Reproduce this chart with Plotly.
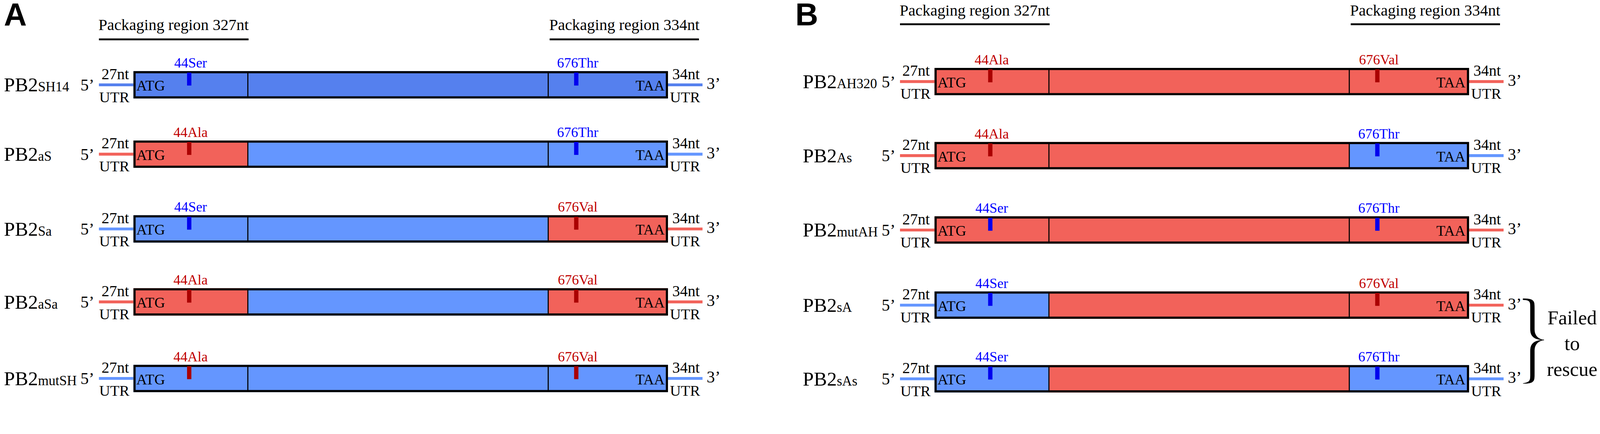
import plotly.graph_objects as go

# constructs in each panel, top to bottom (PB2 + subscript)
panel_a_names = ["SH14", "aS", "Sa", "aSa", "mutSH"]
panel_b_names = ["AH320", "As", "mutAH", "sA", "sAs"]

# origin of 5' packaging part, middle part, 3' packaging part (S = SH14, A = AH320)
panel_a_origin = [["S", "S", "S"], ["A", "S", "S"], ["S", "S", "A"], ["A", "S", "A"], ["S", "S", "S"]]
panel_b_origin = [["A", "A", "A"], ["A", "A", "S"], ["A", "A", "A"], ["S", "A", "A"], ["S", "A", "S"]]

# amino acid at residues 44 and 676
panel_a_res44 = ["Ser", "Ala", "Ser", "Ala", "Ala"]
panel_a_res676 = ["Thr", "Thr", "Val", "Val", "Val"]
panel_b_res44 = ["Ala", "Ala", "Ser", "Ser", "Ser"]
panel_b_res676 = ["Val", "Thr", "Thr", "Val", "Thr"]

residue_numbers = [44, 676]
packaging_labels = ["Packaging region 327nt", "Packaging region 334nt"]
utr_lengths = ["27nt", "34nt"]
codon_labels = ["ATG", "TAA"]
end_labels = ["5\u2019", "3\u2019"]
failed_rows = [3, 4]
failed_label = "Failed<br>to<br>rescue"

# ---- page / drawing units ----
# drawing units are the 4448x1112 picture; the page viewport is smaller, so the
# axes map drawing units onto it and sizes are scaled by K
W, H = 4448, 1112
VIEW_W, VIEW_H, BODY_M = 4096, 1024, 8
K = VIEW_W / W

SERIF = "Liberation Serif"
RED = "#F2625A"
BLUE = "#6496FF"
BLUE_PARENT = "#5580EE"
TICK_COL = {"Ala": "#AA0000", "Val": "#AA0000", "Ser": "#0000EE", "Thr": "#0000EE"}
TEXT_COL = {"Ala": "#C00000", "Val": "#C00000", "Ser": "#0000FF", "Thr": "#0000FF"}

BOX_W = 1486
EDGES = [0, 318, 1153, BOX_W]
TICK_X = [155, 1231]
HALF = 38
UTR_LEN = 96

panels = [
    dict(tag="A", x0=371, name_x=10, rows=[236, 429, 637, 840, 1053], head_y=69, bar_y=109.5,
         tag_x=10, tag_y=40, names=panel_a_names, origin=panel_a_origin,
         res=[panel_a_res44, panel_a_res676]),
    dict(tag="B", x0=2598, name_x=2230, rows=[227, 433, 640, 849, 1054], head_y=29, bar_y=67.5,
         tag_x=2210, tag_y=40, names=panel_b_names, origin=panel_b_origin,
         res=[panel_b_res44, panel_b_res676]),
]

fig = go.Figure()
shapes = []
annots = []


def text(x, y, s, size, color="black", xa="center", ya="middle", family=SERIF, weight=None):
    f = dict(family=family, size=size * K, color=color)
    if weight:
        f["weight"] = weight
    annots.append(dict(x=x, y=y, xref="x", yref="y", text=s, showarrow=False,
                       xanchor=xa, yanchor=ya, font=f, borderpad=0))


def line(x0, y0, x1, y1, color, width):
    shapes.append(dict(type="line", xref="x", yref="y", x0=x0, y0=y0, x1=x1, y1=y1,
                       line=dict(color=color, width=width * K)))


def rect(x0, y0, x1, y1, fill, lc=None, lw=0):
    shapes.append(dict(type="rect", xref="x", yref="y", x0=x0, y0=y0, x1=x1, y1=y1,
                       fillcolor=fill, line=dict(color=lc or fill, width=lw * K)))


sub = "PB2<span style='font-size:%.1fpx'>%s</span>"

for p in panels:
    x0 = p["x0"]
    text(p["tag_x"], p["tag_y"], p["tag"], 88, xa="left", family="Liberation Sans", weight="bold")

    # packaging region headers
    spans = [(x0 - UTR_LEN, x0 + EDGES[1] + 2), (x0 + EDGES[2] + 4, x0 + BOX_W + UTR_LEN - 10)]
    for lab, (a, b) in zip(packaging_labels, spans):
        line(a, p["bar_y"], b, p["bar_y"], "black", 5)
        text((a + b) / 2, p["head_y"], lab, 44)

    for i, c in enumerate(p["rows"]):
        org = p["origin"][i]
        cols = [RED if o == "A" else BLUE for o in org]
        if p["tag"] == "A" and i == 0:
            cols = [BLUE_PARENT] * 3

        # name
        text(p["name_x"], c, sub % (38 * K, p["names"][i]), 55, xa="left")

        # UTR lines
        line(x0 - UTR_LEN, c, x0, c, cols[0], 8)
        line(x0 + BOX_W, c, x0 + BOX_W + UTR_LEN, c, cols[2], 8)

        # gene box
        for k in range(3):
            rect(x0 + EDGES[k], c - HALF, x0 + EDGES[k + 1], c + HALF, cols[k])
        rect(x0 + 3, c - HALF + 3, x0 + BOX_W - 3, c + HALF - 3, "rgba(0,0,0,0)", "black", 6)
        for k in (1, 2):
            line(x0 + EDGES[k], c - HALF + 3, x0 + EDGES[k], c + HALF - 3, "black", 3)

        # mutation ticks and labels
        for j in range(2):
            aa = p["res"][j][i]
            tx = x0 + TICK_X[j]
            rect(tx - 6, c - HALF + 4, tx + 6, c + 2, TICK_COL[aa])
            text(tx + 4, c - 61, "%d%s" % (residue_numbers[j], aa), 39, color=TEXT_COL[aa])

        # codons
        text(x0 + 7, c + 2, codon_labels[0], 41, xa="left")
        text(x0 + BOX_W - 8, c + 2, codon_labels[1], 41, xa="right")

        # UTR labels and ends
        text(x0 - 51, c - 30, utr_lengths[0], 43)
        text(x0 - 53, c + 34, "UTR", 42)
        text(x0 + BOX_W + 50, c - 30, utr_lengths[1], 43)
        text(x0 + BOX_W + 48, c + 34, "UTR", 42)
        text(x0 - 128, c, end_labels[0], 46)
        text(x0 + BOX_W + 127, c - 4, end_labels[1], 46)

# brace + "Failed to rescue" next to panel B rows
pb = panels[1]
yt = pb["rows"][failed_rows[0]] - 18
yb = pb["rows"][failed_rows[1]] + 13
xl = pb["x0"] + BOX_W + 150
xt = xl + 58
ym = (yt + yb) / 2 - 3
h = (yb - yt) / 2
w = xt - xl
xs = xl + 0.45 * w
th = 11
path = (
    f"M {xl},{yt} "
    f"C {xs + th / 2},{yt} {xs + th / 2},{yt + 0.06 * h} {xs + th / 2},{yt + 0.22 * h} "
    f"L {xs + th / 2},{ym - 0.25 * h} "
    f"C {xs + th / 2},{ym - 0.08 * h} {xt - 0.2 * w},{ym - 0.01 * h} {xt},{ym} "
    f"C {xt - 0.2 * w},{ym + 0.01 * h} {xs + th / 2},{ym + 0.08 * h} {xs + th / 2},{ym + 0.25 * h} "
    f"L {xs + th / 2},{yb - 0.22 * h} "
    f"C {xs + th / 2},{yb - 0.06 * h} {xs + th / 2},{yb} {xl},{yb} "
    f"C {xs - th / 2},{yb - 0.03 * h} {xs - th / 2},{yb - 0.08 * h} {xs - th / 2},{yb - 0.22 * h} "
    f"L {xs - th / 2},{ym + 0.25 * h} "
    f"C {xs - th / 2},{ym + 0.06 * h} {xt - 0.4 * w},{ym + 0.01 * h} {xt},{ym} "
    f"C {xt - 0.4 * w},{ym - 0.01 * h} {xs - th / 2},{ym - 0.06 * h} {xs - th / 2},{ym - 0.25 * h} "
    f"L {xs - th / 2},{yt + 0.22 * h} "
    f"C {xs - th / 2},{yt + 0.08 * h} {xs - th / 2},{yt + 0.03 * h} {xl},{yt + 3} Z"
)
shapes.append(dict(type="path", xref="x", yref="y", path=path, fillcolor="black",
                   line=dict(color="black", width=1)))
text(4370, ym + 10, failed_label, 55)

fig.update_layout(
    width=VIEW_W - 2 * BODY_M, height=VIEW_H - 2 * BODY_M, autosize=False,
    margin=dict(l=0, r=0, t=0, b=0, pad=0),
    paper_bgcolor="white", plot_bgcolor="white",
    xaxis=dict(range=[BODY_M / K, (VIEW_W - BODY_M) / K], visible=False, fixedrange=True),
    yaxis=dict(range=[(VIEW_H - BODY_M) / K, BODY_M / K], visible=False, fixedrange=True),
    showlegend=False, shapes=shapes, annotations=annots,
)

fig.write_html("out.html")
